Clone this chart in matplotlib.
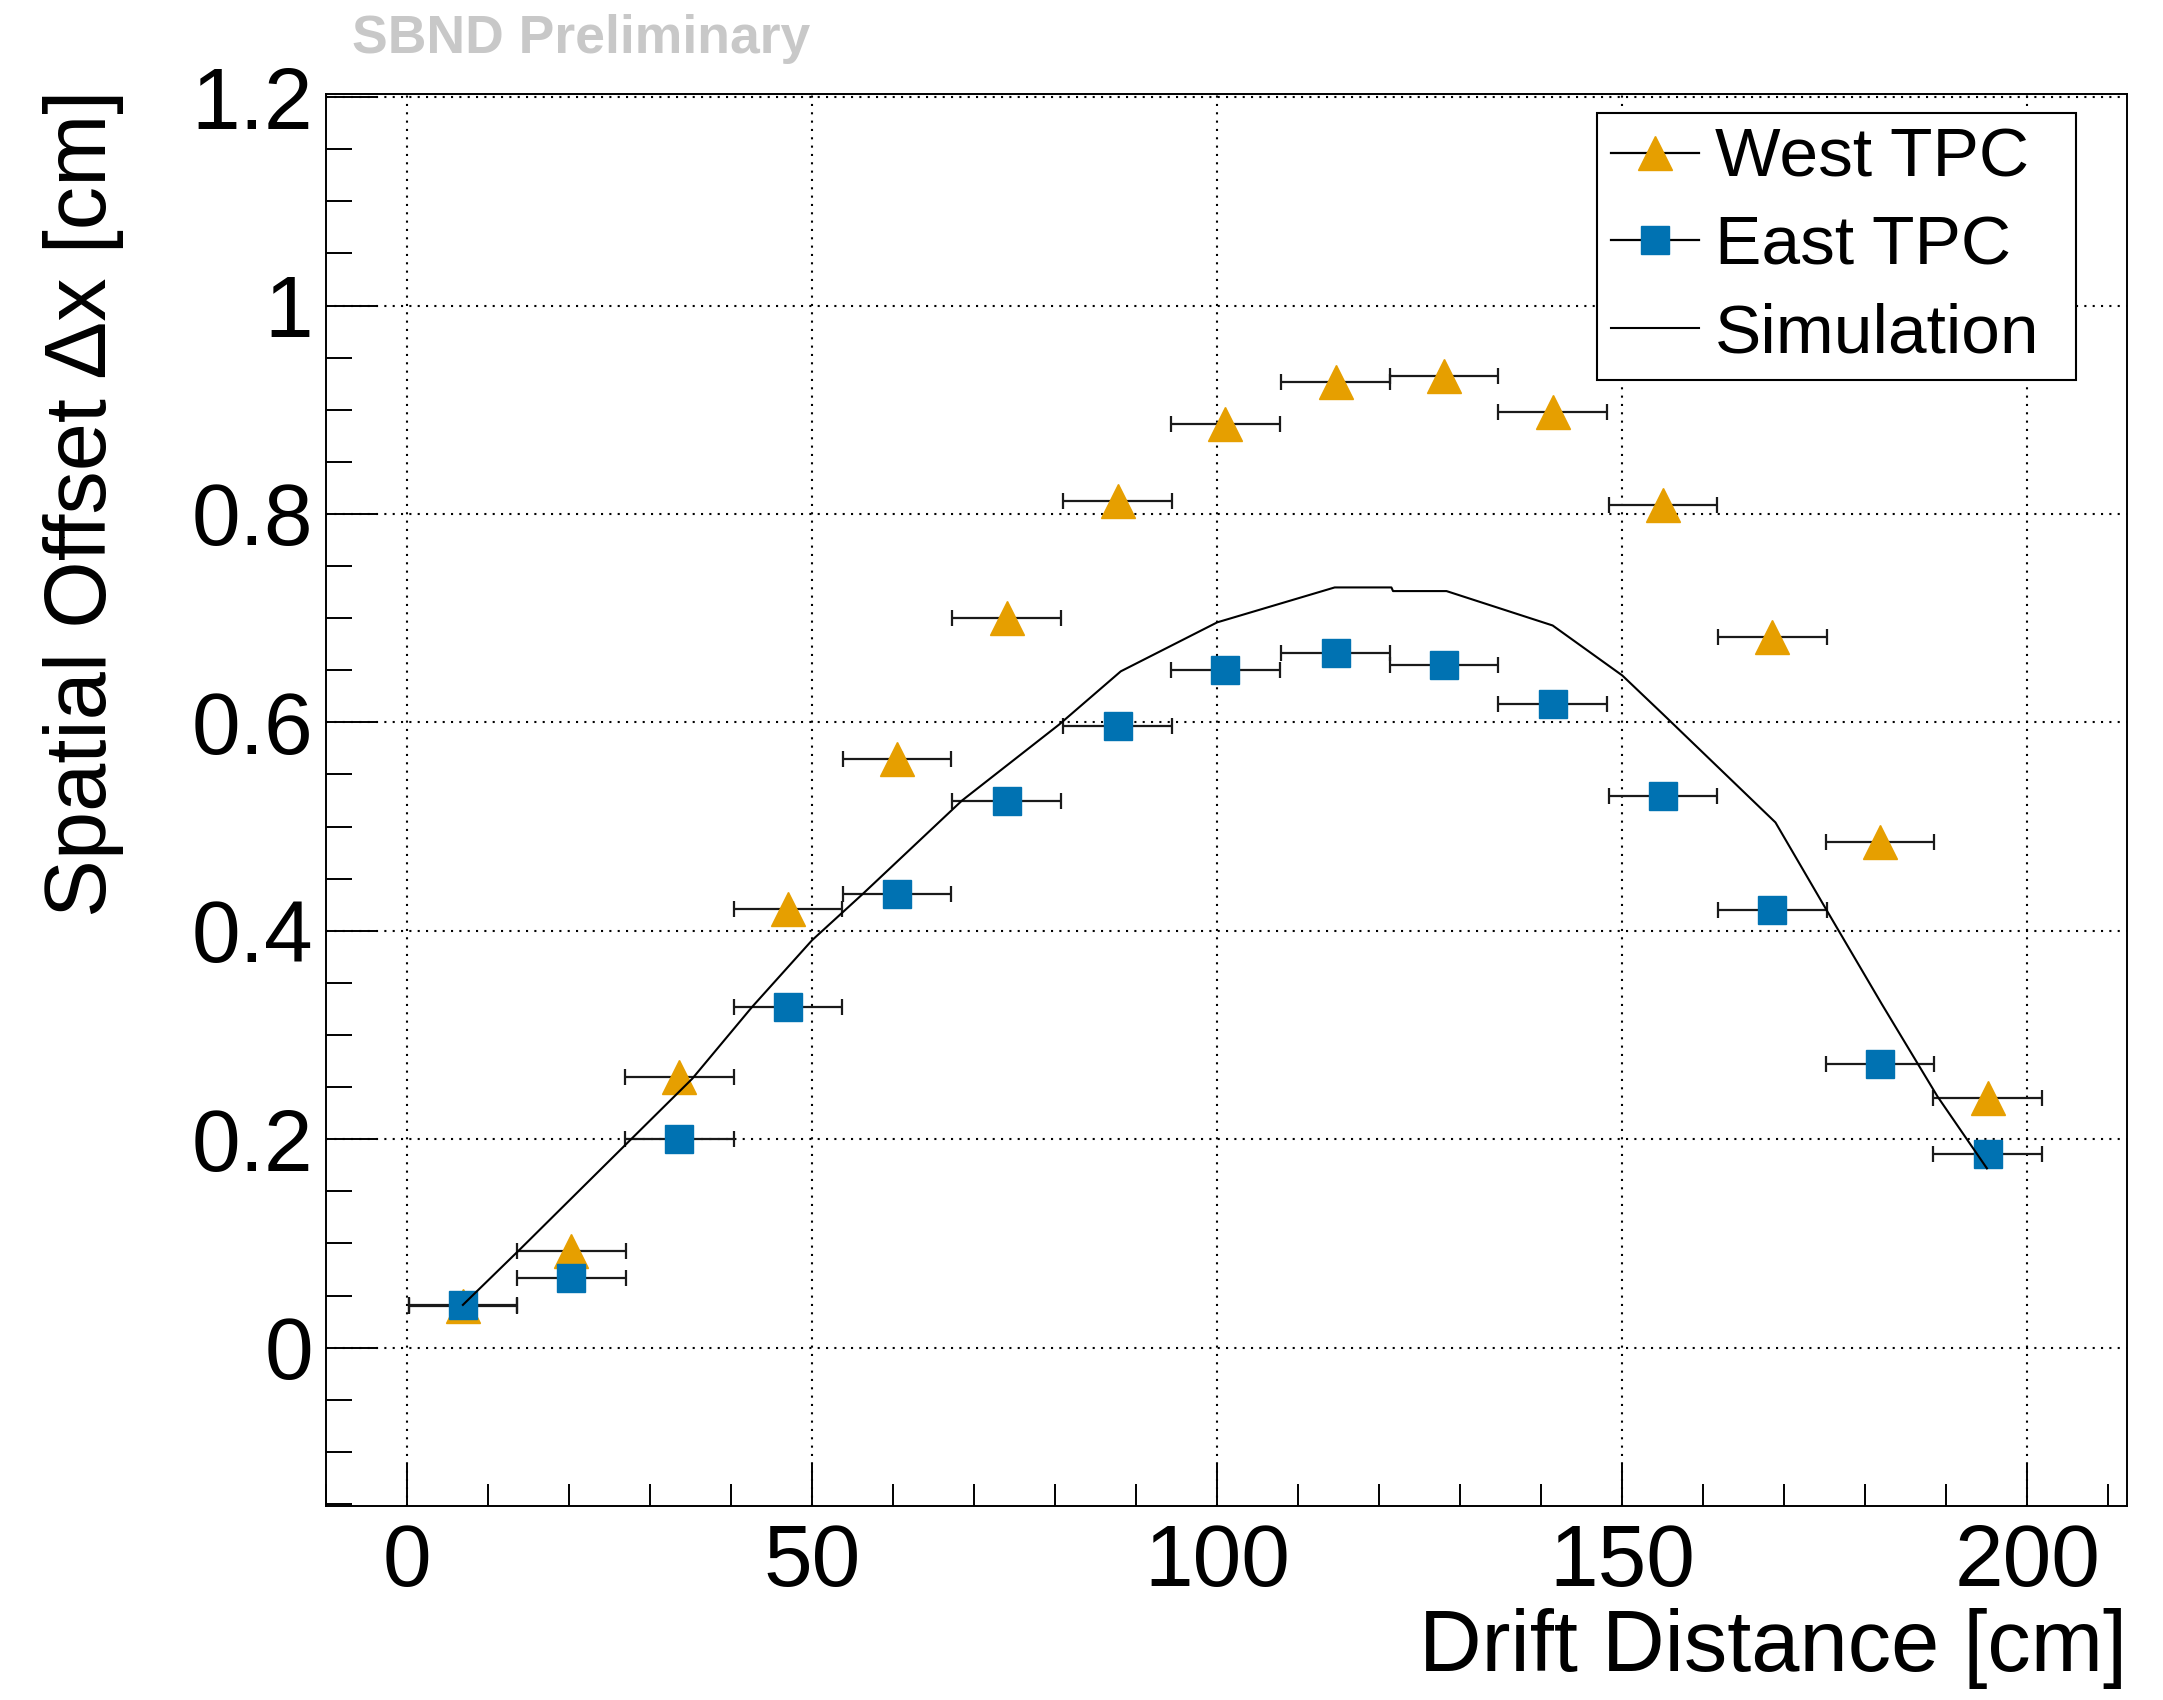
import matplotlib
matplotlib.use('Agg')
from matplotlib import pyplot as plt
from matplotlib.ticker import MultipleLocator, FormatStrFormatter
from matplotlib.lines import Line2D

plt.rcParams['font.family'] = ['Liberation Sans', 'DejaVu Sans']

#%% data
drift_x = [6.9, 20.3, 33.6, 47.0, 60.5, 74.0, 87.7, 101.0, 114.6, 128.0, 141.4, 155.0, 168.5, 181.8, 195.1]
drift_xerr = 6.7
west_dx = [0.040, 0.093, 0.260, 0.421, 0.565, 0.700, 0.812, 0.886, 0.927, 0.932, 0.898, 0.809, 0.682, 0.485, 0.240]
east_dx = [0.041, 0.067, 0.200, 0.3265, 0.435, 0.525, 0.597, 0.650, 0.667, 0.655, 0.618, 0.529, 0.420, 0.272, 0.186]

sim_x = [6.9, 13.9, 27.4, 35.2, 42.6, 50.0, 56.2, 68.5, 80.5, 88.1, 100.0, 114.5, 121.5, 121.7, 128.3,
         141.4, 150.0, 155.0, 168.9, 175.2, 182.0, 188.9, 195.0]
sim_dx = [0.041, 0.094, 0.198, 0.258, 0.327, 0.391, 0.435, 0.525, 0.598, 0.649, 0.696, 0.7295, 0.7295, 0.726, 0.726,
          0.693, 0.645, 0.608, 0.504, 0.420, 0.330, 0.241, 0.172]

orange = '#E69F00'
blue = '#0072B2'

#%%
fig = plt.figure(figsize=(21.63, 17), dpi=100)
ax = fig.add_axes([0.1507, 0.1141, 0.8327, 0.8306])

ax.errorbar(drift_x, west_dx, xerr=drift_xerr, fmt='^', ms=24, mfc=orange, mec=orange,
            ecolor='#1a1a1a', elinewidth=1.6, capsize=6, capthick=1.6, zorder=3)
ax.errorbar(drift_x, east_dx, xerr=drift_xerr, fmt='s', ms=20, mfc=blue, mec=blue,
            ecolor='#1a1a1a', elinewidth=1.6, capsize=6, capthick=1.6, zorder=4)
ax.plot(sim_x, sim_dx, color='black', lw=1.5, zorder=5)

ax.set_xlim(-10, 212.3)
ax.set_ylim(-0.152, 1.203)
ax.xaxis.set_major_locator(MultipleLocator(50))
ax.xaxis.set_minor_locator(MultipleLocator(10))
ax.yaxis.set_major_locator(MultipleLocator(0.2))
ax.yaxis.set_minor_locator(MultipleLocator(0.05))
ax.yaxis.set_major_formatter(FormatStrFormatter('%g'))

ax.set_axisbelow(True)
ax.grid(True, which='major', color='black', ls=(0, (1, 3)), lw=1.5)

ax.tick_params(which='both', direction='in', top=False, right=False, width=1.4, labelsize=63)
ax.tick_params(axis='x', which='major', length=30, pad=12)
ax.tick_params(axis='x', which='minor', length=15.5)
ax.tick_params(axis='y', which='major', length=37.5, pad=9)
ax.tick_params(axis='y', which='minor', length=19)
for s in ax.spines.values():
    s.set_linewidth(1.4)

ax.set_xlabel('Drift Distance [cm]', fontsize=62.5, ha='right', va='center')
ax.xaxis.set_label_coords(1.0, -0.1006)
ax.set_ylabel('Spatial Offset Δx [cm]', fontsize=62.5, loc='top')
ax.yaxis.set_label_coords(-0.112, 1.003)

handles = [
    Line2D([], [], color='black', lw=1.6, marker='^', ms=24, mfc=orange, mec=orange),
    Line2D([], [], color='black', lw=1.6, marker='s', ms=20, mfc=blue, mec=blue),
    Line2D([], [], color='black', lw=1.5),
]
leg = ax.legend(handles, ['West TPC', 'East TPC', 'Simulation'], loc='upper left',
                bbox_to_anchor=(0.7057, 0.801, 0.2660, 0.1855), mode='expand',
                borderaxespad=0, fontsize=50,
                handlelength=1.27, handletextpad=0.23, labelspacing=0.34, borderpad=0.2,
                fancybox=False, framealpha=1, edgecolor='black')
leg.get_frame().set_linewidth(1.5)

fig.text(0.1627, 0.9773, 'SBND Preliminary', fontsize=38.5, fontweight='bold',
         color='#c8c8c8', ha='left', va='center')

fig.savefig('out.png', dpi=100)
